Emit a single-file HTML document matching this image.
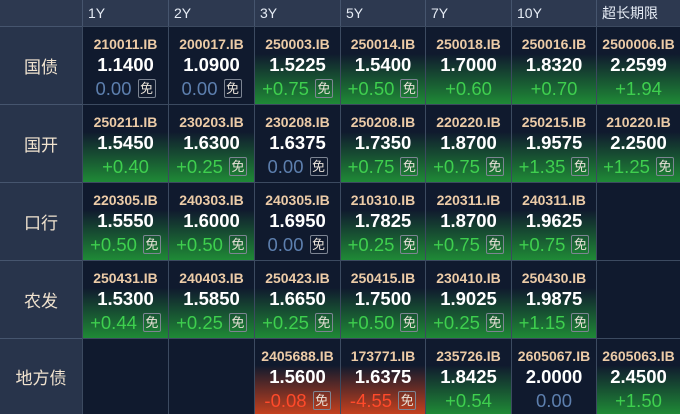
<!DOCTYPE html>
<html><head><meta charset="utf-8"><style>
*{margin:0;padding:0;box-sizing:border-box}
body{width:680px;height:414px;background:#101a2e;position:relative;overflow:hidden;font-family:"Liberation Sans","Noto Sans CJK SC",sans-serif}
.h{position:absolute;top:0;height:26px;background:#2d3950;color:#e6ecf5;font-size:14px;line-height:26px;padding-left:5px;border-left:1px solid #46556e}
.l{position:absolute;left:0;width:82px;background:#28344b;color:#f1e3cf;font-size:17px;display:flex;align-items:center;justify-content:center;border-top:1px solid #46556e}
.c{position:absolute;border-left:1px solid #3c4a60;border-top:1px solid #3c4a60;text-align:center}
.g{background:linear-gradient(to bottom,rgba(30,130,50,0) 35%,#1f8a36 100%)}
.r{background:linear-gradient(to bottom,rgba(200,60,30,0) 35%,#c4401e 100%)}
.code{position:absolute;top:9px;left:0;right:0;color:#eccba7;font-size:14px;font-weight:bold}
.val{position:absolute;top:27px;left:0;right:0;color:#fff;font-size:18.5px;font-weight:bold}
.chg{position:absolute;top:50px;left:0;right:0;display:flex;justify-content:center;align-items:center;font-size:18.5px;height:23px}
.p{color:#3ecf4e}.z{color:#5d7fae}.n{color:#ff4a2a}
.b{display:inline-block;width:18px;height:19px;border:1px solid #7d8593;border-radius:2px;color:#e9e2d8;font-size:13px;line-height:17px;margin-left:6px;text-align:center}
</style></head><body>
<div style="position:absolute;left:50px;top:0;width:112px;height:2px;background:#2f7ee0"></div>
<div class="h" style="left:82px;width:86px">1Y</div>
<div class="h" style="left:168px;width:86px">2Y</div>
<div class="h" style="left:254px;width:86px">3Y</div>
<div class="h" style="left:340px;width:85px">5Y</div>
<div class="h" style="left:425px;width:86px">7Y</div>
<div class="h" style="left:511px;width:85px">10Y</div>
<div class="h" style="left:596px;width:84px">超长期限</div>
<div class="h" style="left:0;width:82px;border-left:none"></div>

<div class="l" style="top:26px;height:78px">国债</div>
<div class="l" style="top:104px;height:78px">国开</div>
<div class="l" style="top:182px;height:78px">口行</div>
<div class="l" style="top:260px;height:78px">农发</div>
<div class="l" style="top:338px;height:76px">地方债</div>

<div class="c" style="left:82px;top:26px;width:86px;height:78px"><div class="code">210011.IB</div><div class="val">1.1400</div><div class="chg z">0.00<span class="b">免</span></div></div>
<div class="c" style="left:168px;top:26px;width:86px;height:78px"><div class="code">200017.IB</div><div class="val">1.0900</div><div class="chg z">0.00<span class="b">免</span></div></div>
<div class="c g" style="left:254px;top:26px;width:86px;height:78px"><div class="code">250003.IB</div><div class="val">1.5225</div><div class="chg p">+0.75<span class="b">免</span></div></div>
<div class="c g" style="left:340px;top:26px;width:85px;height:78px"><div class="code">250014.IB</div><div class="val">1.5400</div><div class="chg p">+0.50<span class="b">免</span></div></div>
<div class="c g" style="left:425px;top:26px;width:86px;height:78px"><div class="code">250018.IB</div><div class="val">1.7000</div><div class="chg p">+0.60</div></div>
<div class="c g" style="left:511px;top:26px;width:85px;height:78px"><div class="code">250016.IB</div><div class="val">1.8320</div><div class="chg p">+0.70</div></div>
<div class="c g" style="left:596px;top:26px;width:84px;height:78px"><div class="code">2500006.IB</div><div class="val">2.2599</div><div class="chg p">+1.94</div></div>
<div class="c g" style="left:82px;top:104px;width:86px;height:78px"><div class="code">250211.IB</div><div class="val">1.5450</div><div class="chg p">+0.40</div></div>
<div class="c g" style="left:168px;top:104px;width:86px;height:78px"><div class="code">230203.IB</div><div class="val">1.6300</div><div class="chg p">+0.25<span class="b">免</span></div></div>
<div class="c" style="left:254px;top:104px;width:86px;height:78px"><div class="code">230208.IB</div><div class="val">1.6375</div><div class="chg z">0.00<span class="b">免</span></div></div>
<div class="c g" style="left:340px;top:104px;width:85px;height:78px"><div class="code">250208.IB</div><div class="val">1.7350</div><div class="chg p">+0.75<span class="b">免</span></div></div>
<div class="c g" style="left:425px;top:104px;width:86px;height:78px"><div class="code">220220.IB</div><div class="val">1.8700</div><div class="chg p">+0.75<span class="b">免</span></div></div>
<div class="c g" style="left:511px;top:104px;width:85px;height:78px"><div class="code">250215.IB</div><div class="val">1.9575</div><div class="chg p">+1.35<span class="b">免</span></div></div>
<div class="c g" style="left:596px;top:104px;width:84px;height:78px"><div class="code">210220.IB</div><div class="val">2.2500</div><div class="chg p">+1.25<span class="b">免</span></div></div>
<div class="c g" style="left:82px;top:182px;width:86px;height:78px"><div class="code">220305.IB</div><div class="val">1.5550</div><div class="chg p">+0.50<span class="b">免</span></div></div>
<div class="c g" style="left:168px;top:182px;width:86px;height:78px"><div class="code">240303.IB</div><div class="val">1.6000</div><div class="chg p">+0.50<span class="b">免</span></div></div>
<div class="c" style="left:254px;top:182px;width:86px;height:78px"><div class="code">240305.IB</div><div class="val">1.6950</div><div class="chg z">0.00<span class="b">免</span></div></div>
<div class="c g" style="left:340px;top:182px;width:85px;height:78px"><div class="code">210310.IB</div><div class="val">1.7825</div><div class="chg p">+0.25<span class="b">免</span></div></div>
<div class="c g" style="left:425px;top:182px;width:86px;height:78px"><div class="code">220311.IB</div><div class="val">1.8700</div><div class="chg p">+0.75<span class="b">免</span></div></div>
<div class="c g" style="left:511px;top:182px;width:85px;height:78px"><div class="code">240311.IB</div><div class="val">1.9625</div><div class="chg p">+0.75<span class="b">免</span></div></div>
<div class="c" style="left:596px;top:182px;width:84px;height:78px"></div>
<div class="c g" style="left:82px;top:260px;width:86px;height:78px"><div class="code">250431.IB</div><div class="val">1.5300</div><div class="chg p">+0.44<span class="b">免</span></div></div>
<div class="c g" style="left:168px;top:260px;width:86px;height:78px"><div class="code">240403.IB</div><div class="val">1.5850</div><div class="chg p">+0.25<span class="b">免</span></div></div>
<div class="c g" style="left:254px;top:260px;width:86px;height:78px"><div class="code">250423.IB</div><div class="val">1.6650</div><div class="chg p">+0.25<span class="b">免</span></div></div>
<div class="c g" style="left:340px;top:260px;width:85px;height:78px"><div class="code">250415.IB</div><div class="val">1.7500</div><div class="chg p">+0.50<span class="b">免</span></div></div>
<div class="c g" style="left:425px;top:260px;width:86px;height:78px"><div class="code">230410.IB</div><div class="val">1.9025</div><div class="chg p">+0.25<span class="b">免</span></div></div>
<div class="c g" style="left:511px;top:260px;width:85px;height:78px"><div class="code">250430.IB</div><div class="val">1.9875</div><div class="chg p">+1.15<span class="b">免</span></div></div>
<div class="c" style="left:596px;top:260px;width:84px;height:78px"></div>
<div class="c" style="left:82px;top:338px;width:86px;height:76px"></div>
<div class="c" style="left:168px;top:338px;width:86px;height:76px"></div>
<div class="c r" style="left:254px;top:338px;width:86px;height:76px"><div class="code">2405688.IB</div><div class="val">1.5600</div><div class="chg n">-0.08<span class="b">免</span></div></div>
<div class="c r" style="left:340px;top:338px;width:85px;height:76px"><div class="code">173771.IB</div><div class="val">1.6375</div><div class="chg n">-4.55<span class="b">免</span></div></div>
<div class="c g" style="left:425px;top:338px;width:86px;height:76px"><div class="code">235726.IB</div><div class="val">1.8425</div><div class="chg p">+0.54</div></div>
<div class="c" style="left:511px;top:338px;width:85px;height:76px"><div class="code">2605067.IB</div><div class="val">2.0000</div><div class="chg z">0.00</div></div>
<div class="c g" style="left:596px;top:338px;width:84px;height:76px"><div class="code">2605063.IB</div><div class="val">2.4500</div><div class="chg p">+1.50</div></div>
</body></html>
